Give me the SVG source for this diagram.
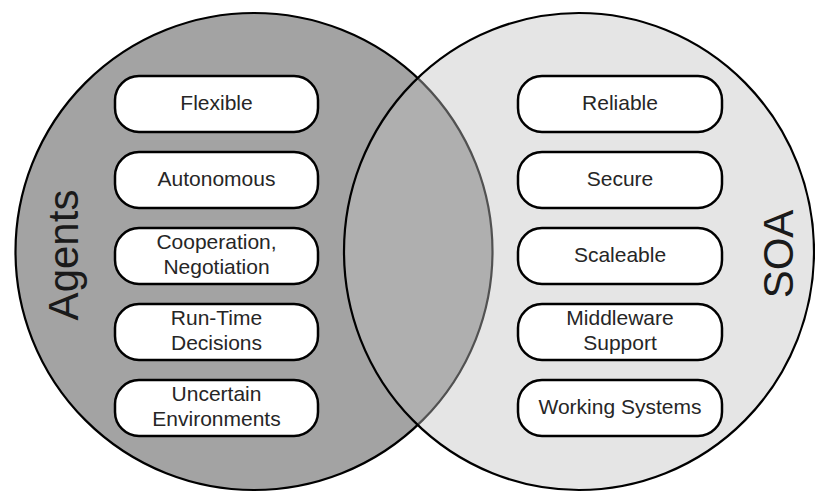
<svg xmlns="http://www.w3.org/2000/svg" width="815" height="493" viewBox="0 0 815 493">
  <style>
    .box { fill: #ffffff; stroke: #000000; stroke-width: 2.5; }
    .lbl { font-family: "Liberation Sans", Arial, sans-serif; font-size: 21px; fill: #262626; text-anchor: middle; }
    .big { font-family: "Liberation Sans", Arial, sans-serif; font-size: 42px; fill: #1a1a1a; text-anchor: middle; }
  </style>
  <rect width="815" height="493" fill="#ffffff"/>
  <g id="agents-set">
    <circle cx="254" cy="251.5" r="238.5" fill="#a3a3a3" stroke="#000000" stroke-width="2.2"/>
  </g>
  <g id="soa-set">
    <ellipse cx="579" cy="251.5" rx="235" ry="238.5" fill="#c2c2c2" fill-opacity="0.42" stroke="#000000" stroke-width="2.2"/>
  </g>
  <g id="agents-title">
    <text class="big" transform="translate(78,255) rotate(-90)">Agents</text>
  </g>
  <g id="soa-title">
    <text class="big" transform="translate(793,254) rotate(-90)">SOA</text>
  </g>
  <g id="flexible">
    <rect class="box" x="115" y="76" width="203" height="56" rx="24"/>
    <text class="lbl" x="216.5" y="110">Flexible</text>
  </g>
  <g id="autonomous">
    <rect class="box" x="115" y="152" width="203" height="56" rx="24"/>
    <text class="lbl" x="216.5" y="186">Autonomous</text>
  </g>
  <g id="cooperation">
    <rect class="box" x="115" y="228" width="203" height="56" rx="24"/>
    <text class="lbl" x="216.5" y="249">Cooperation,</text>
    <text class="lbl" x="216.5" y="274">Negotiation</text>
  </g>
  <g id="runtime">
    <rect class="box" x="115" y="304" width="203" height="56" rx="24"/>
    <text class="lbl" x="216.5" y="325">Run-Time</text>
    <text class="lbl" x="216.5" y="350">Decisions</text>
  </g>
  <g id="uncertain">
    <rect class="box" x="115" y="380" width="203" height="56" rx="24"/>
    <text class="lbl" x="216.5" y="401">Uncertain</text>
    <text class="lbl" x="216.5" y="426">Environments</text>
  </g>
  <g id="reliable">
    <rect class="box" x="518" y="76" width="204" height="56" rx="24"/>
    <text class="lbl" x="620" y="110">Reliable</text>
  </g>
  <g id="secure">
    <rect class="box" x="518" y="152" width="204" height="56" rx="24"/>
    <text class="lbl" x="620" y="186">Secure</text>
  </g>
  <g id="scaleable">
    <rect class="box" x="518" y="228" width="204" height="56" rx="24"/>
    <text class="lbl" x="620" y="262">Scaleable</text>
  </g>
  <g id="middleware">
    <rect class="box" x="518" y="304" width="204" height="56" rx="24"/>
    <text class="lbl" x="620" y="325">Middleware</text>
    <text class="lbl" x="620" y="350">Support</text>
  </g>
  <g id="working">
    <rect class="box" x="518" y="380" width="204" height="56" rx="24"/>
    <text class="lbl" x="620" y="414">Working Systems</text>
  </g>
  <g id="connectors"/>
</svg>
